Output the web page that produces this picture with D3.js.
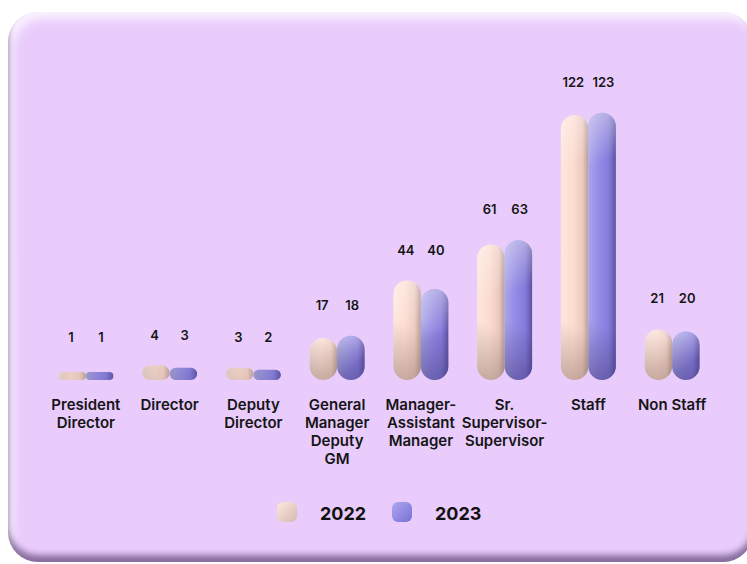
<!DOCTYPE html>
<html>
<head>
<meta charset="utf-8">
<script src="https://cdn.jsdelivr.net/npm/d3@7"></script>
<style>
  html, body { margin: 0; padding: 0; background: #ffffff; }
  svg { display: block; font-family: Inter, "Noto Sans", sans-serif; }
</style>
</head>
<body>
<svg id="chart" width="747" height="564"></svg>
<script>
// ---- data ----
const categoryLabels = [
  ["President", "Director"],
  ["Director"],
  ["Deputy", "Director"],
  ["General", "Manager", "Deputy", "GM"],
  ["Manager-", "Assistant", "Manager"],
  ["Sr.", "Supervisor-", "Supervisor"],
  ["Staff"],
  ["Non Staff"]
];
const years = ["2022", "2023"];
const values2022 = [1, 4, 3, 17, 44, 61, 122, 21];
const values2023 = [1, 3, 2, 18, 40, 63, 123, 20];

// ---- setup ----
const W = 747, H = 564;
const svg = d3.select("#chart");
const defs = svg.append("defs");

function roundRectPath(x, y, w, h, r) {
  return `M${x + r},${y}H${x + w - r}A${r},${r} 0 0 1 ${x + w},${y + r}V${y + h - r}` +
         `A${r},${r} 0 0 1 ${x + w - r},${y + h}H${x + r}A${r},${r} 0 0 1 ${x},${y + h - r}` +
         `V${y + r}A${r},${r} 0 0 1 ${x + r},${y}Z`;
}

// ---- card background with soft inset edges ----
const card = { x: 8, y: 12, w: 745, h: 550, r: 30 };
const cardPath = roundRectPath(card.x, card.y, card.w, card.h, card.r);
defs.append("clipPath").attr("id", "cardClip").append("path").attr("d", cardPath);
const blurLight = defs.append("filter").attr("id", "blurLight")
  .attr("x", "-10%").attr("y", "-10%").attr("width", "120%").attr("height", "120%");
blurLight.append("feGaussianBlur").attr("stdDeviation", 5);
const blurDark = defs.append("filter").attr("id", "blurDark")
  .attr("x", "-10%").attr("y", "-10%").attr("width", "120%").attr("height", "120%");
blurDark.append("feGaussianBlur").attr("stdDeviation", 3);

svg.append("path").attr("d", cardPath).attr("fill", "#e9ccfc");
const frame = `M-200,-200H${W + 200}V${H + 200}H-200Z` + cardPath;
const inset = svg.append("g").attr("clip-path", "url(#cardClip)");
inset.append("path").attr("d", frame).attr("fill-rule", "evenodd")
  .attr("fill", "#ffffff").attr("opacity", 0.75)
  .attr("transform", "translate(5,7)").attr("filter", "url(#blurLight)");
inset.append("path").attr("d", frame).attr("fill-rule", "evenodd")
  .attr("fill", "#6e5486").attr("opacity", 0.8)
  .attr("transform", "translate(0,-7)").attr("filter", "url(#blurDark)");

// ---- scales ----
const idx = d3.range(categoryLabels.length);
const x0 = d3.scaleBand().domain(idx).range([44, 714]);
const barW = 27.5;
const x1 = d3.scaleBand().domain(years).range([-barW, barW]);
const xLabel = d3.scalePoint().domain(years).range([-15, 15]);
const baseline = 380;
const y = d3.scaleLinear().domain([0, 123]).range([374, 112.8]);
const center = i => x0(i) + x0.bandwidth() / 2;

// ---- bar paints ----
const palette = {
  "2022": { stops: [["0%", "#fde6dc"], ["45%", "#fcdcd0"], ["78%", "#ecccc1"], ["100%", "#b99e97"]],
            top: "#ffffff", topOp: 0.35, bottom: "#6b4f48", bottomOp: 0.38,
            sw: ["#fee9df", "#d4b8ae"] },
  "2023": { stops: [["0%", "#aaa4ea"], ["40%", "#938ae6"], ["75%", "#857ad9"], ["100%", "#5d53a3"]],
            top: "#e6e6f0", topOp: 0.55, bottom: "#2e2760", bottomOp: 0.42,
            sw: ["#aca8ee", "#7a6fd6"] }
};
years.forEach(yr => {
  const g = defs.append("linearGradient").attr("id", "side" + yr)
    .attr("x1", 0).attr("y1", 0).attr("x2", 1).attr("y2", 0);
  palette[yr].stops.forEach(s => g.append("stop").attr("offset", s[0]).attr("stop-color", s[1]));
  const sg = defs.append("linearGradient").attr("id", "swatch" + yr)
    .attr("x1", 0).attr("y1", 0).attr("x2", 1).attr("y2", 1);
  sg.append("stop").attr("offset", "0%").attr("stop-color", palette[yr].sw[0]);
  sg.append("stop").attr("offset", "100%").attr("stop-color", palette[yr].sw[1]);
});

const bars = [];
idx.forEach(i => {
  [values2022[i], values2023[i]].forEach((v, k) => {
    bars.push({ i, year: years[k], value: v });
  });
});

const barG = svg.append("g");
bars.forEach((d, n) => {
  const x = center(d.i) + x1(d.year);
  const top = y(d.value);
  const h = baseline - top;
  const r = Math.min(barW / 2, h / 2);
  const p = palette[d.year];
  // short bars carry lighter shading
  const depth = Math.min(1, 0.35 + h / 60);

  // top sheen
  const tg = defs.append("linearGradient").attr("id", "top" + n)
    .attr("gradientUnits", "userSpaceOnUse")
    .attr("x1", x).attr("y1", top).attr("x2", x + barW * 0.8).attr("y2", top + Math.min(45, h * 0.6));
  tg.append("stop").attr("offset", "0%").attr("stop-color", p.top).attr("stop-opacity", p.topOp * depth);
  tg.append("stop").attr("offset", "100%").attr("stop-color", p.top).attr("stop-opacity", 0);

  // bottom shade, darker toward the lower left
  const bg = defs.append("linearGradient").attr("id", "bot" + n)
    .attr("gradientUnits", "userSpaceOnUse")
    .attr("x1", x + barW).attr("y1", baseline - Math.min(48, h * 0.75))
    .attr("x2", x + barW * 0.2).attr("y2", baseline);
  bg.append("stop").attr("offset", "0%").attr("stop-color", p.bottom).attr("stop-opacity", 0);
  bg.append("stop").attr("offset", "100%").attr("stop-color", p.bottom).attr("stop-opacity", p.bottomOp * depth);

  const shape = roundRectPath(x, top, barW, h, r);
  barG.append("path").attr("d", shape).attr("fill", `url(#side${d.year})`);
  barG.append("path").attr("d", shape).attr("fill", `url(#top${n})`);
  barG.append("path").attr("d", shape).attr("fill", `url(#bot${n})`);
});

// ---- value labels ----
const valG = svg.append("g").attr("font-size", 13).attr("font-weight", 600)
  .attr("fill", "#151515").attr("text-anchor", "middle");
idx.forEach(i => {
  const gm = Math.max(values2022[i], values2023[i]);
  const ly = Math.min(y(gm) - 26, y(0) - 32);
  [values2022[i], values2023[i]].forEach((v, k) => {
    valG.append("text").attr("x", center(i) + xLabel(years[k])).attr("y", ly).text(v);
  });
});

// ---- category labels ----
const catG = svg.append("g").attr("font-size", 15).attr("font-weight", 600)
  .attr("fill", "#151515").attr("text-anchor", "middle");
idx.forEach(i => {
  const t = catG.append("text").attr("x", center(i)).attr("y", 409.5);
  categoryLabels[i].forEach((line, j) => {
    t.append("tspan").attr("x", center(i)).attr("dy", j === 0 ? 0 : 18).text(line);
  });
});

// ---- legend ----
const legend = svg.append("g");
const legendX = d3.scalePoint().domain(years).range([277, 392]);
years.forEach(yr => {
  const lx = legendX(yr);
  legend.append("rect").attr("x", lx).attr("y", 502).attr("width", 20).attr("height", 20)
    .attr("rx", 6).attr("fill", `url(#swatch${yr})`);
  legend.append("text").attr("x", lx + 43).attr("y", 519.5)
    .attr("font-size", 18).attr("font-weight", 700).attr("fill", "#111")
    .text(yr);
});
</script>
</body>
</html>
